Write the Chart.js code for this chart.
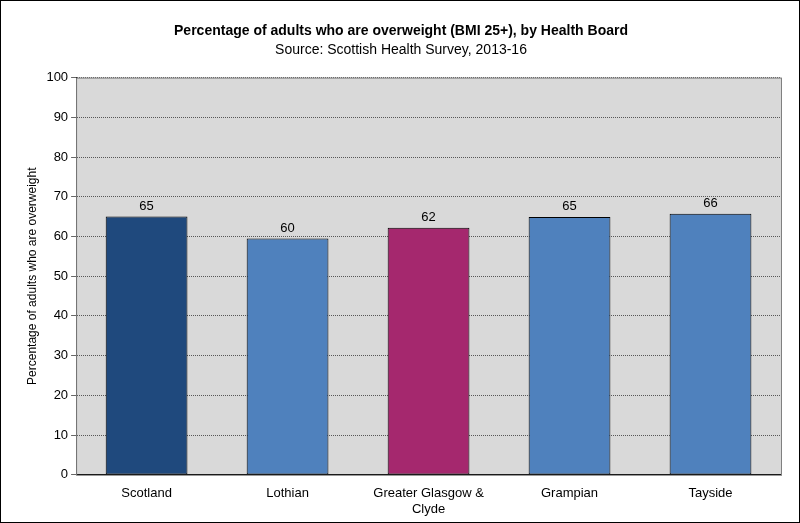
<!DOCTYPE html>
<html>
<head>
<meta charset="utf-8">
<script src="https://cdn.jsdelivr.net/npm/chart.js@4"></script>
<style>
  html, body { margin: 0; padding: 0; background: #fff; }
  #wrap { width: 798px; height: 521px; border: 1px solid #000; }
</style>
</head>
<body>
<div id="wrap"><canvas id="chart" width="798" height="521"></canvas></div>
<script>
// data
const categories = ["Scotland", "Lothian", ["Greater Glasgow &", "Clyde"], "Grampian", "Tayside"];
const values = [65.0, 59.5, 62.2, 64.9, 65.7];
const valueLabels = ["65", "60", "62", "65", "66"];
const barColors = ["#1F497D", "#4F81BD", "#A5286E", "#4F81BD", "#4F81BD"];

// grey plot area
const plotBg = {
    id: "plotBg",
    beforeDraw(chart) {
        const { ctx, chartArea: a } = chart;
        ctx.save();
        ctx.fillStyle = "#D9D9D9";
        ctx.fillRect(a.left, a.top, a.right - a.left, a.bottom - a.top);
        ctx.restore();
    },
    afterDraw(chart) {
        const { ctx, chartArea: a } = chart;
        ctx.save();
        ctx.strokeStyle = "#808080";
        ctx.lineWidth = 1;
        ctx.strokeRect(a.left + 0.5, a.top + 0.5, a.right - a.left, a.bottom - a.top);
        ctx.restore();
    }
};

// value labels above bars
const barLabels = {
    id: "barLabels",
    afterDatasetsDraw(chart) {
        const { ctx } = chart;
        const meta = chart.getDatasetMeta(0);
        ctx.save();
        ctx.font = "13px 'Liberation Sans', Arial, sans-serif";
        ctx.fillStyle = "#000";
        ctx.textAlign = "center";
        ctx.textBaseline = "bottom";
        meta.data.forEach((bar, i) => {
            ctx.fillText(valueLabels[i], bar.x, bar.y - 4);
        });
        ctx.restore();
    }
};

new Chart(document.getElementById("chart"), {
    type: "bar",
    data: {
        labels: categories,
        datasets: [{
            data: values,
            backgroundColor: barColors,
            borderColor: "#000",
            borderWidth: 1,
            borderSkipped: false,
            categoryPercentage: 0.58,
            barPercentage: 1
        }]
    },
    options: {
        responsive: false,
        animation: false,
        layout: { padding: { left: 20, right: 18, top: 12, bottom: 2 } },
        plugins: {
            legend: { display: false },
            tooltip: { enabled: false },
            title: {
                display: true,
                text: "Percentage of adults who are overweight (BMI 25+), by Health Board",
                color: "#000",
                font: { family: "'Liberation Sans', Arial", size: 14, weight: "bold" },
                padding: { top: 10, bottom: 0 }
            },
            subtitle: {
                display: true,
                text: "Source: Scottish Health Survey, 2013-16",
                color: "#000",
                font: { family: "'Liberation Sans', Arial", size: 14 },
                padding: { top: 2, bottom: 19 }
            }
        },
        scales: {
            y: {
                min: 0, max: 100,
                ticks: { stepSize: 10, color: "#000", font: { family: "'Liberation Sans', Arial", size: 13 } },
                grid: { color: "#000", lineWidth: 0.6, drawTicks: true, tickColor: "#000", tickLength: 5 },
                border: { color: "#000", dash: [1, 1] },
                title: {
                    display: true,
                    text: "Percentage of adults who are overweight",
                    color: "#000",
                    font: { family: "'Liberation Sans', Arial", size: 12 }
                }
            },
            x: {
                ticks: { color: "#000", font: { family: "'Liberation Sans', Arial", size: 13 }, maxRotation: 0 },
                grid: { display: false },
                border: { color: "#000" }
            }
        }
    },
    plugins: [plotBg, barLabels]
});
</script>
</body>
</html>
